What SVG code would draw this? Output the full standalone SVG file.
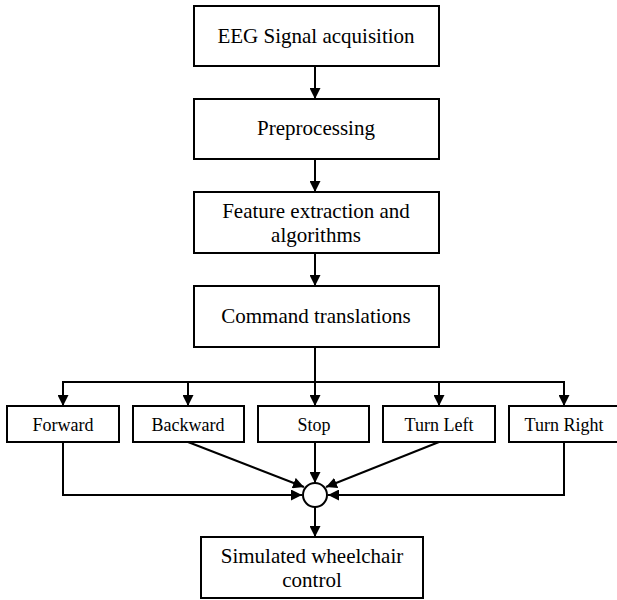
<svg xmlns="http://www.w3.org/2000/svg" width="617" height="600" viewBox="0 0 617 600">
  <style>
    .box { fill: #ffffff; stroke: #000000; stroke-width: 2; }
    .lbl { font-family: "Liberation Serif", "Times New Roman", serif; font-size: 21px; fill: #000000; text-anchor: middle; }
    .sm { font-size: 18px; }
    .wire { fill: none; stroke: #000000; stroke-width: 2; }
  </style>
  <defs>
    <marker id="arr" viewBox="0 0 10 10" refX="10" refY="5" markerWidth="5.5" markerHeight="5.5" orient="auto" markerUnits="strokeWidth">
      <path d="M0,0 L10,5 L0,10 Z" fill="#000000"/>
    </marker>
  </defs>
  <rect width="617" height="600" fill="#ffffff"/>

  <g id="connectors">
    <line class="wire" x1="315" y1="66" x2="315" y2="99" marker-end="url(#arr)"/>
    <line class="wire" x1="315" y1="159" x2="315" y2="192" marker-end="url(#arr)"/>
    <line class="wire" x1="315" y1="253" x2="315" y2="286" marker-end="url(#arr)"/>
    <line class="wire" x1="315" y1="347" x2="315" y2="406" marker-end="url(#arr)"/>
    <polyline class="wire" points="63,406 63,382 564,382 564,406" marker-end="url(#arr)"/>
    <line class="wire" x1="63" y1="382" x2="63" y2="406" marker-end="url(#arr)"/>
    <line class="wire" x1="188" y1="382" x2="188" y2="406" marker-end="url(#arr)"/>
    <line class="wire" x1="439" y1="382" x2="439" y2="406" marker-end="url(#arr)"/>
    <polyline class="wire" points="63,442 63,495 302,495" marker-end="url(#arr)"/>
    <line class="wire" x1="188" y1="442" x2="304" y2="487" marker-end="url(#arr)"/>
    <line class="wire" x1="315" y1="442" x2="315" y2="483" marker-end="url(#arr)"/>
    <line class="wire" x1="439" y1="442" x2="326" y2="487" marker-end="url(#arr)"/>
    <polyline class="wire" points="564,442 564,495 328,495" marker-end="url(#arr)"/>
    <line class="wire" x1="315" y1="507" x2="315" y2="537" marker-end="url(#arr)"/>
  </g>

  <g id="acquisition">
    <rect class="box" x="194" y="6" width="245" height="60"/>
    <text class="lbl" x="316" y="43">EEG Signal acquisition</text>
  </g>
  <g id="preprocessing">
    <rect class="box" x="194" y="99" width="245" height="60"/>
    <text class="lbl" x="316" y="135">Preprocessing</text>
  </g>
  <g id="features">
    <rect class="box" x="194" y="192" width="245" height="61"/>
    <text class="lbl" x="316" y="218">Feature extraction and</text>
    <text class="lbl" x="316" y="242">algorithms</text>
  </g>
  <g id="commands">
    <rect class="box" x="194" y="286" width="245" height="61"/>
    <text class="lbl" x="316" y="323">Command translations</text>
  </g>

  <g id="forward">
    <rect class="box" x="7" y="406" width="112" height="36"/>
    <text class="lbl sm" x="63" y="431">Forward</text>
  </g>
  <g id="backward">
    <rect class="box" x="133" y="406" width="111" height="36"/>
    <text class="lbl sm" x="188" y="431">Backward</text>
  </g>
  <g id="stop">
    <rect class="box" x="258" y="406" width="111" height="36"/>
    <text class="lbl sm" x="314" y="431">Stop</text>
  </g>
  <g id="turn-left">
    <rect class="box" x="383" y="406" width="112" height="36"/>
    <text class="lbl sm" x="439" y="431">Turn Left</text>
  </g>
  <g id="turn-right">
    <rect class="box" x="509" y="406" width="112" height="36"/>
    <text class="lbl sm" x="564" y="431">Turn Right</text>
  </g>

  <g id="junction">
    <circle cx="315" cy="495" r="12" fill="#ffffff" stroke="#000000" stroke-width="2"/>
  </g>

  <g id="wheelchair">
    <rect class="box" x="201" y="537" width="222" height="61"/>
    <text class="lbl" x="312" y="563">Simulated wheelchair</text>
    <text class="lbl" x="312" y="587">control</text>
  </g>
</svg>
